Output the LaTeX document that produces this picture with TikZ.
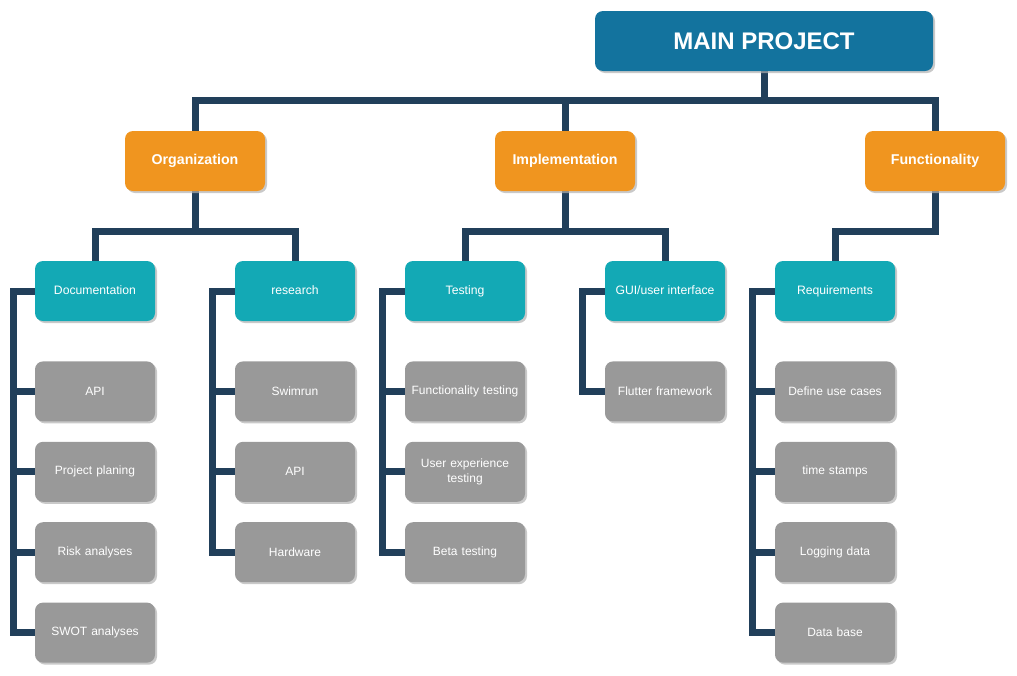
\documentclass[tikz,border=0pt]{standalone}
\usepackage{fontspec}
\setmainfont{Liberation Sans}
\usetikzlibrary{positioning,shadows,backgrounds}

\definecolor{mainblue}{HTML}{13739E}
\definecolor{grouporange}{HTML}{F0951F}
\definecolor{subteal}{HTML}{13A9B5}
\definecolor{taskgray}{HTML}{999999}
\definecolor{linkblue}{HTML}{213F5A}

\tikzset{
    box/.style={rounded corners=8pt, text=white, align=center, inner sep=0pt,
        drop shadow={shadow xshift=2pt, shadow yshift=-2pt, fill=black!30, opacity=0.7}},
    mainbox/.style={box, fill=mainblue, minimum width=338pt, minimum height=60pt,
        font=\fontsize{24}{28}\selectfont\bfseries},
    groupbox/.style={box, fill=grouporange, minimum width=140pt, minimum height=60pt,
        font=\fontsize{14.2}{17}\selectfont\bfseries},
    subbox/.style={box, fill=subteal, minimum width=120pt, minimum height=60pt,
        text height=9pt, text depth=2.6pt, font=\fontsize{12.2}{15}\selectfont},
    taskbox/.style={box, fill=taskgray, minimum width=120pt, minimum height=60pt,
        text width=114pt, font=\fontsize{12}{15}\selectfont},
    link/.style={draw=linkblue, line width=7pt}
}

\begin{document}
\begin{tikzpicture}[x=1pt,y=-1pt]
        \useasboundingbox (0,0) rectangle (1017,675);

        \node[mainbox] (main) at (764,41) {MAIN PROJECT};

        \node[groupbox] (org) at (195,161) {Organization};
        \node[groupbox] (impl) at (565,161) {Implementation};
        \node[groupbox] (func) at (935,161) {Functionality};

        \node[subbox] (doc) at (95,291) {Documentation};
        \node[subbox] (res) at (295,291) {research};
        \node[subbox] (test) at (465,291) {Testing};
        \node[subbox] (gui) at (665,291) {GUI/user interface};
        \node[subbox] (req) at (835,291) {Requirements};

        \node[taskbox, below=40pt of doc] (docA) {API};
        \node[taskbox, below=20pt of docA] (docB) {Project planing};
        \node[taskbox, below=20pt of docB] (docC) {Risk analyses};
        \node[taskbox, below=20pt of docC] (docD) {SWOT analyses};

        \node[taskbox, below=40pt of res] (resA) {Swimrun};
        \node[taskbox, below=20pt of resA] (resB) {API};
        \node[taskbox, below=20pt of resB] (resC) {Hardware};

        \node[taskbox, below=40pt of test] (testA) {Functionality testing};
        \node[taskbox, below=20pt of testA] (testB) {User experience\\testing};
        \node[taskbox, below=20pt of testB] (testC) {Beta testing};

        \node[taskbox, below=40pt of gui] (guiA) {Flutter framework};

        \node[taskbox, below=40pt of req] (reqA) {Define use cases};
        \node[taskbox, below=20pt of reqA] (reqB) {time stamps};
        \node[taskbox, below=20pt of reqB] (reqC) {Logging data};
        \node[taskbox, below=20pt of reqC] (reqD) {Data base};

        \begin{scope}[on background layer]
            % top level
            \coordinate (bus) at (764,100);
            \draw[link] (main.south) -- (bus);
            \draw[link] (org.north) |- (bus) -| (func.north);
            \draw[link] (impl.north) -- (impl.north |- bus);

            % second level
            \draw[link] (org.south) -- ++(0,40) coordinate (orgbus);
            \draw[link] (doc.north) |- (orgbus) -| (res.north);
            \draw[link] (impl.south) -- ++(0,40) coordinate (implbus);
            \draw[link] (test.north) |- (implbus) -| (gui.north);
            \draw[link] (func.south) -- ++(0,40) -| (req.north);

            % task spines
            \draw[link] (doc.west) -- ++(-21,0) coordinate (docsp) |- (docD.west);
            \foreach \t in {docA,docB,docC}
                \draw[link] (docsp |- \t.west) -- (\t.west);
            \draw[link] (res.west) -- ++(-22,0) coordinate (ressp) |- (resC.west);
            \foreach \t in {resA,resB}
                \draw[link] (ressp |- \t.west) -- (\t.west);
            \draw[link] (test.west) -- ++(-22,0) coordinate (testsp) |- (testC.west);
            \foreach \t in {testA,testB}
                \draw[link] (testsp |- \t.west) -- (\t.west);
            \draw[link] (gui.west) -- ++(-22,0) |- (guiA.west);
            \draw[link] (req.west) -- ++(-22,0) coordinate (reqsp) |- (reqD.west);
            \foreach \t in {reqA,reqB,reqC}
                \draw[link] (reqsp |- \t.west) -- (\t.west);
        \end{scope}
    \end{tikzpicture}
\end{document}
